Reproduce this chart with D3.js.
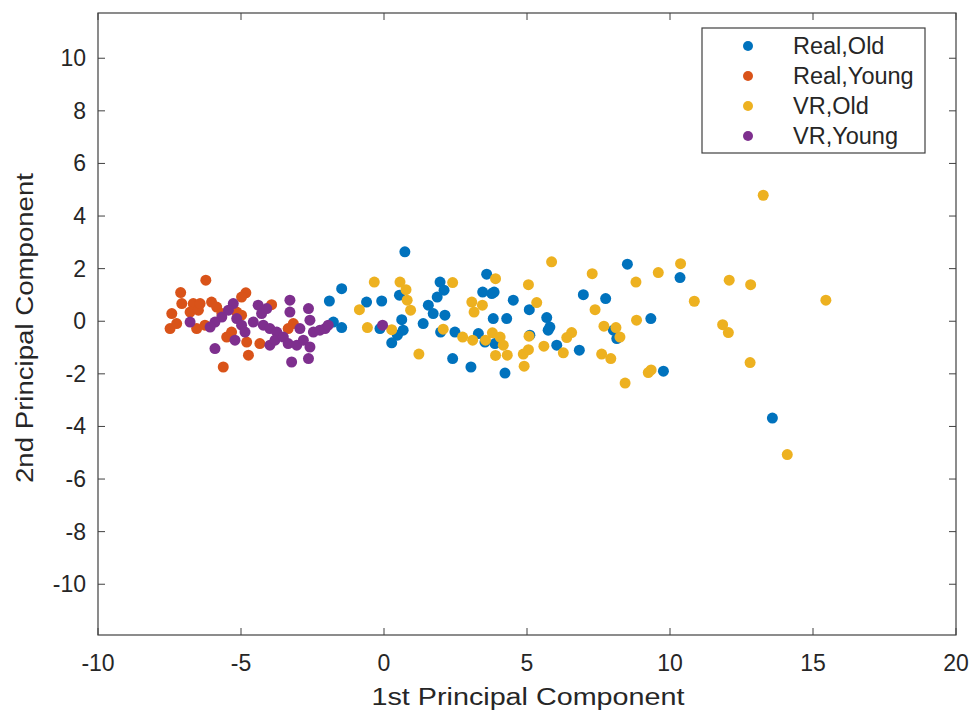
<!DOCTYPE html>
<html><head><meta charset="utf-8">
<script src="https://cdn.jsdelivr.net/npm/d3@7"></script>
<style>body{margin:0;background:#fff;} svg{display:block;font-family:"Liberation Sans",Arial,sans-serif;}</style>
</head><body>
<svg id="chart" width="975" height="713"></svg>
<script>
const seriesNames = ["Real,Old", "Real,Young", "VR,Old", "VR,Young"];
const seriesColors = ["#0072BD", "#D95319", "#EDB120", "#7E2F8E"];
const xTicks = [-10, -5, 0, 5, 10, 15, 20];
const yTicks = [-10, -8, -6, -4, -2, 0, 2, 4, 6, 8, 10];
const xLabel = "1st Principal Component";
const yLabel = "2nd Principal Component";

const realOld = [[-1.48,1.24],[-1.91,0.77],[-1.77,-0.03],[-1.48,-0.24],[-0.61,0.73],[-0.08,0.77],[-0.14,-0.28],[0.73,2.64],[0.54,0.99],[0.62,0.06],[0.67,-0.34],[0.47,-0.53],[0.27,-0.82],[1.96,1.49],[2.10,1.18],[1.86,0.92],[1.55,0.61],[1.72,0.29],[2.13,0.23],[1.37,-0.09],[1.98,-0.41],[2.48,-0.41],[2.40,-1.42],[3.04,-1.74],[3.59,1.79],[3.45,1.11],[3.77,1.05],[3.85,1.11],[4.52,0.80],[3.82,0.10],[4.29,0.10],[3.30,-0.47],[3.53,-0.79],[3.88,-0.85],[4.23,-1.97],[5.08,0.44],[5.69,0.14],[5.80,-0.22],[5.74,-0.34],[6.04,-0.91],[5.10,-0.53],[8.51,2.17],[10.35,1.66],[6.97,1.01],[7.75,0.86],[9.33,0.10],[6.83,-1.10],[8.02,-0.34],[8.14,-0.66],[9.77,-1.90],[13.58,-3.68]];
const realYoung = [[-6.23,1.56],[-7.11,1.09],[-4.83,1.08],[-7.07,0.67],[-6.67,0.67],[-6.03,0.73],[-4.98,0.92],[-3.93,0.63],[-7.42,0.29],[-6.78,0.35],[-6.49,0.42],[-5.85,0.54],[-7.48,-0.28],[-7.25,-0.09],[-6.55,-0.28],[-5.15,0.35],[-5.50,-0.60],[-5.33,-0.41],[-4.80,-0.79],[-4.34,-0.85],[-4.74,-1.29],[-5.62,-1.74],[-3.17,-0.09],[-3.35,-0.28],[-6.26,-0.15],[-5.67,0.29],[-4.98,0.23],[-6.43,0.67]];
const vrOld = [[5.86,2.26],[-0.34,1.49],[0.56,1.49],[0.77,1.20],[2.40,1.47],[3.90,1.62],[5.05,1.39],[0.81,0.80],[0.93,0.42],[-0.86,0.44],[3.07,0.73],[3.44,0.61],[3.15,0.35],[5.34,0.71],[-0.58,-0.24],[0.27,-0.32],[2.07,-0.30],[2.75,-0.60],[3.10,-0.72],[3.55,-0.72],[3.79,-0.44],[4.06,-0.60],[4.17,-0.91],[4.31,-1.29],[3.90,-1.30],[5.07,-0.57],[4.87,-1.25],[5.05,-1.08],[4.90,-1.71],[5.59,-0.95],[1.22,-1.25],[7.28,1.81],[8.81,1.49],[9.59,1.85],[10.37,2.19],[12.07,1.56],[10.85,0.76],[7.38,0.44],[8.83,0.04],[7.69,-0.19],[8.11,-0.24],[8.25,-0.60],[6.56,-0.43],[6.39,-0.62],[6.27,-1.20],[7.61,-1.25],[7.93,-1.42],[9.24,-1.95],[9.34,-1.85],[8.43,-2.35],[11.84,-0.13],[12.04,-0.43],[13.26,4.79],[12.82,1.39],[15.45,0.80],[12.80,-1.57],[14.10,-5.07]];
const vrYoung = [[-6.78,-0.03],[-5.27,0.67],[-5.44,0.42],[-5.67,0.16],[-5.91,-0.03],[-6.08,-0.22],[-5.15,0.10],[-4.98,-0.15],[-4.86,-0.41],[-4.57,-0.03],[-4.40,0.61],[-4.28,0.29],[-4.10,0.48],[-4.22,-0.15],[-3.99,-0.28],[-3.75,-0.41],[-5.21,-0.72],[-5.91,-1.04],[-3.99,-0.91],[-3.81,-0.72],[-3.52,-0.60],[-3.29,0.80],[-3.29,0.35],[-3.35,-0.85],[-3.05,-0.91],[-2.82,-0.72],[-2.64,0.48],[-2.59,0.04],[-2.94,-0.28],[-2.47,-0.41],[-2.24,-0.34],[-2.06,-0.28],[-1.95,-0.15],[-2.59,-0.98],[-3.23,-1.55],[-2.64,-1.42],[-0.05,-0.15]];

const groups = [realOld, realYoung, vrOld, vrYoung];

const svg = d3.select("#chart");
const L = 98, R = 956, T = 13, B = 635;
const x = d3.scaleLinear().domain([-10, 20]).range([L, R]);
const y = d3.scaleLinear().domain([-11.93, 11.72]).range([B, T]);
const axisColor = "#404040";
const textColor = "#262626";

// frame
svg.append("rect").attr("x", L).attr("y", T).attr("width", R - L).attr("height", B - T)
  .attr("fill", "none").attr("stroke", axisColor).attr("stroke-width", 1.2);

const tickLen = 7;
xTicks.forEach(v => {
  svg.append("line").attr("x1", x(v)).attr("x2", x(v)).attr("y1", B).attr("y2", B - tickLen).attr("stroke", axisColor);
  svg.append("line").attr("x1", x(v)).attr("x2", x(v)).attr("y1", T).attr("y2", T + tickLen).attr("stroke", axisColor);
  svg.append("text").attr("x", x(v)).attr("y", 663).attr("text-anchor", "middle").attr("dominant-baseline", "central")
    .attr("font-size", 23).attr("fill", textColor).text(v);
});
yTicks.forEach(v => {
  svg.append("line").attr("x1", L).attr("x2", L + tickLen).attr("y1", y(v)).attr("y2", y(v)).attr("stroke", axisColor);
  svg.append("line").attr("x1", R).attr("x2", R - tickLen).attr("y1", y(v)).attr("y2", y(v)).attr("stroke", axisColor);
  svg.append("text").attr("x", 86).attr("y", y(v)).attr("text-anchor", "end").attr("dominant-baseline", "central")
    .attr("font-size", 23).attr("fill", textColor).text(v);
});

// axis labels
svg.append("text").attr("x", 528).attr("y", 705).attr("text-anchor", "middle")
  .attr("font-size", 23).attr("fill", textColor)
  .attr("textLength", 313).attr("lengthAdjust", "spacingAndGlyphs").text(xLabel);
svg.append("text").attr("transform", "translate(33,328) rotate(-90)").attr("text-anchor", "middle")
  .attr("font-size", 23).attr("fill", textColor)
  .attr("textLength", 310).attr("lengthAdjust", "spacingAndGlyphs").text(yLabel);

// points
const plot = svg.append("g");
groups.forEach((g, i) => {
  plot.append("g").selectAll("circle").data(g).join("circle")
    .attr("cx", d => x(d[0])).attr("cy", d => y(d[1])).attr("r", 5.5)
    .attr("fill", seriesColors[i]);
});

// legend
const leg = svg.append("g");
leg.append("rect").attr("x", 702).attr("y", 28).attr("width", 223).attr("height", 125)
  .attr("fill", "#fff").attr("stroke", axisColor).attr("stroke-width", 1.2);
seriesNames.forEach((n, i) => {
  const yy = 46 + i * 30;
  leg.append("circle").attr("cx", 748).attr("cy", yy).attr("r", 5).attr("fill", seriesColors[i]);
  leg.append("text").attr("x", 793).attr("y", yy).attr("dominant-baseline", "central")
    .attr("font-size", 23.5).attr("fill", textColor).text(n);
});
</script>
</body></html>
